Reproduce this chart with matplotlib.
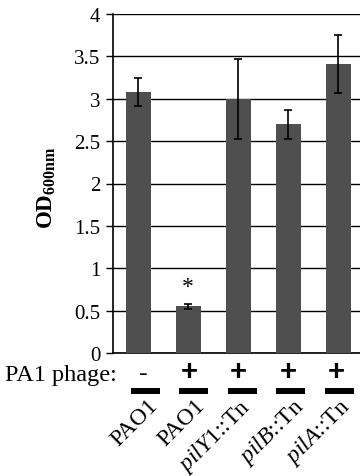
import matplotlib
matplotlib.use("Agg")
import matplotlib.pyplot as plt

categories = ["PAO1", "PAO1", "$\\it{pilY1}$::Tn", "$\\it{pilB}$::Tn", "$\\it{pilA}$::Tn"]
phage = ["-", "+", "+", "+", "+"]
values = [3.08, 0.55, 3.00, 2.70, 3.41]
errors = [0.17, 0.03, 0.47, 0.17, 0.34]
yticks = [0, 0.5, 1, 1.5, 2, 2.5, 3, 3.5, 4]
ytick_labels = ["0", "0.5", "1", "1.5", "2", "2.5", "3", "3.5", "4"]

plt.rcParams['font.family'] = ['Liberation Serif', 'DejaVu Serif']
plt.rcParams['mathtext.fontset'] = 'custom'
plt.rcParams['mathtext.rm'] = 'Liberation Serif'
plt.rcParams['mathtext.it'] = 'Liberation Serif:italic'
plt.rcParams['mathtext.bf'] = 'Liberation Serif:bold'

W, H = 360, 477
fig = plt.figure(figsize=(W / 100, H / 100), dpi=100)
left, right, top, bottom = 113, 363, 15, 354
ax = fig.add_axes([left / W, 1 - bottom / H, (right - left) / W, (bottom - top) / H])
axh = bottom - top

x = list(range(len(values)))
ax.bar(x, values, width=0.5, color='#4f4f4f', zorder=3)
ax.errorbar(x, values, yerr=errors, fmt='none', ecolor='black', elinewidth=1.2,
            capsize=3.2, capthick=1.2, zorder=4)
ax.set_xlim(-0.5, len(values) - 0.5)
ax.set_ylim(0, 4)
ax.set_yticks(yticks)
ax.set_yticklabels(ytick_labels, fontsize=15)
ax.yaxis.grid(True, color='black', linewidth=1.0, zorder=0)
ax.set_axisbelow(True)
ax.tick_params(axis='y', length=5, width=1.0, pad=4)
ax.set_xticks([])
for s in ['top', 'right']:
    ax.spines[s].set_visible(False)
ax.spines['left'].set_linewidth(1.2)
ax.spines['bottom'].set_linewidth(1.2)

ax.text(1, values[1] + errors[1] + 0.08, "*", ha='center', va='bottom', fontsize=17)

fig.text(47 / W, 1 - 188 / H, "OD$_{\\mathbf{600nm}}$", rotation=90, ha='center', va='center',
         fontsize=16.5, fontweight='bold')

fig.text(5 / W, 1 - 381 / H, "PA1 phage:", ha='left', va='baseline', fontsize=17.5)
trans = ax.get_xaxis_transform()
sign_x = [0.1, 1.02, 2.0, 3.0, 3.97]
line_x = [0.15, 1.1, 2.08, 3.05, 4.02]
label_dx = [0.18, 0.13, 0.02, 0.08, 0.01]
for i, p in enumerate(phage):
    if p == '+':
        ax.text(sign_x[i], -(372 - bottom) / axh, p, transform=trans, ha='center',
                va='center', fontsize=21, fontweight='bold', family='Liberation Sans',
                clip_on=False)
    else:
        ax.text(sign_x[i], -(374 - bottom) / axh, p, transform=trans, ha='center',
                va='center', fontsize=19, family='Liberation Sans', clip_on=False)
    ax.plot([line_x[i] - 0.29, line_x[i] + 0.29], [-(392 - bottom) / axh] * 2,
            transform=trans, color='black', linewidth=4.3, solid_capstyle='butt',
            clip_on=False)
    ax.text(i + label_dx[i], -(395 - bottom) / axh, categories[i], transform=trans,
            rotation=45, rotation_mode='anchor', ha='right', va='top', fontsize=17,
            clip_on=False)

fig.savefig("out.png", dpi=100)
